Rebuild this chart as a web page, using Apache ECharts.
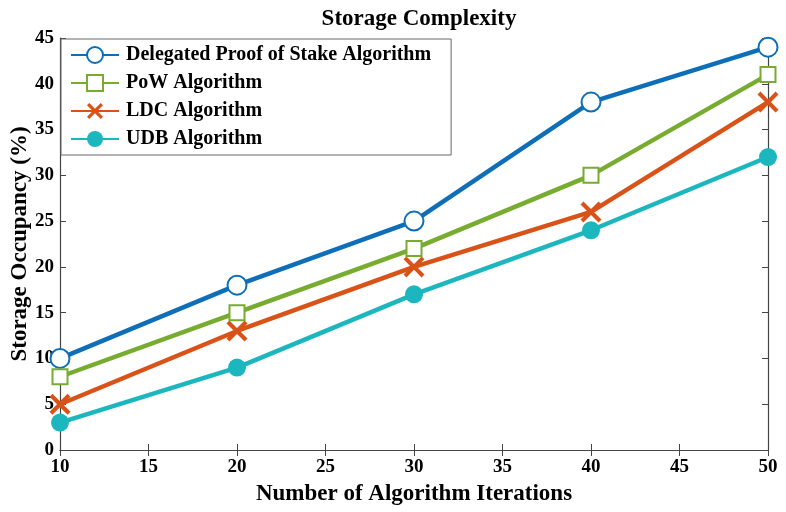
<!DOCTYPE html>
<html>
<head>
<meta charset="utf-8">
<script src="https://cdn.jsdelivr.net/npm/echarts@6/dist/echarts.min.js"></script>
<style>
html, body { margin: 0; padding: 0; background: #fff; }
#chart { width: 786px; height: 512px; }
</style>
</head>
<body>
<div id="chart"></div>
<script>
var iterations = [10, 20, 30, 40, 50];
var dposValues = [10, 18, 25, 38, 44];
var powValues = [8, 15, 22, 30, 41];
var ldcValues = [5, 13, 20, 26, 38];
var udbValues = [3, 9, 17, 24, 32];
var seriesNames = ['Delegated Proof of Stake Algorithm', 'PoW Algorithm', 'LDC Algorithm', 'UDB Algorithm'];

var fontFam = '"Liberation Serif", "Times New Roman", serif';
var xShape = 'path://M0,1.4L1.4,0L5,3.6L8.6,0L10,1.4L6.4,5L10,8.6L8.6,10L5,6.4L1.4,10L0,8.6L3.6,5Z';

function pairs(vals) {
    return iterations.map(function (x, i) { return [x, vals[i]]; });
}

var chartDom = document.getElementById('chart');
var myChart = echarts.init(chartDom);

var axisLine = { show: true, lineStyle: { color: '#444', width: 1.2 } };
var axisTick = { show: true, inside: true, length: 6, lineStyle: { color: '#444' } };
var tickText = { color: '#000', fontFamily: fontFam, fontWeight: 'bold', fontSize: 19 };

function makeSeries(name, vals, color, symbol, size, bw) {
    return {
        name: name,
        type: 'line',
        data: pairs(vals),
        symbol: symbol,
        symbolSize: size,
        showAllSymbol: true,
        lineStyle: { color: color, width: 4.5 },
        itemStyle: { color: color, borderColor: color, borderWidth: bw },
        emphasis: { disabled: true },
        z: 3
    };
}

var option = {
    animation: false,
    backgroundColor: '#fff',
    title: {
        text: 'Storage Complexity',
        left: 414,
        textAlign: 'center',
        top: 3,
        textStyle: { fontFamily: fontFam, fontWeight: 'bold', fontSize: 23, color: '#000' }
    },
    grid: { left: 60, right: 18, top: 38, bottom: 62, containLabel: false, outerBoundsMode: 'none' },
    legend: {
        orient: 'vertical',
        left: 61,
        top: 39,
        padding: [6, 20, 6, 9],
        itemGap: 8,
        itemWidth: 48,
        itemHeight: 20,
        backgroundColor: '#fff',
        borderColor: '#666',
        borderWidth: 1,
        borderRadius: 0,
        textStyle: { fontFamily: fontFam, fontWeight: 'bold', fontSize: 20, color: '#000', padding: [0, 0, 0, 2] },
        data: seriesNames
    },
    xAxis: [{
        type: 'value',
        min: 10, max: 50, interval: 5,
        name: 'Number of Algorithm Iterations',
        nameLocation: 'middle',
        nameGap: 33,
        nameMoveOverlap: false,
        nameTextStyle: { fontFamily: fontFam, fontWeight: 'bold', fontSize: 23, color: '#000' },
        axisLine: axisLine, axisTick: axisTick,
        axisLabel: Object.assign({ margin: 8 }, tickText),
        splitLine: { show: false }
    }, {
        type: 'value', position: 'top',
        min: 10, max: 50, interval: 5,
        axisLine: axisLine, axisTick: axisTick,
        axisLabel: { show: false }, splitLine: { show: false }
    }],
    yAxis: [{
        type: 'value',
        min: 0, max: 45, interval: 5,
        name: 'Storage Occupancy (%)',
        nameLocation: 'middle',
        nameGap: 28,
        nameMoveOverlap: false,
        nameTextStyle: { fontFamily: fontFam, fontWeight: 'bold', fontSize: 23, color: '#000' },
        axisLine: axisLine, axisTick: axisTick,
        axisLabel: Object.assign({ margin: 6 }, tickText),
        splitLine: { show: false }
    }, {
        type: 'value', position: 'right',
        min: 0, max: 45, interval: 5,
        axisLine: axisLine, axisTick: axisTick,
        axisLabel: { show: false }, splitLine: { show: false }
    }],
    series: [
        makeSeries(seriesNames[0], dposValues, '#0E6FB8', 'emptyCircle', 19, 4),
        makeSeries(seriesNames[1], powValues, '#77AC30', 'emptyRect', 15, 4),
        makeSeries(seriesNames[2], ldcValues, '#D95319', xShape, 21, 0),
        makeSeries(seriesNames[3], udbValues, '#1CB6BE', 'circle', 18, 0)
    ]
};

option && myChart.setOption(option);
</script>
</body>
</html>
